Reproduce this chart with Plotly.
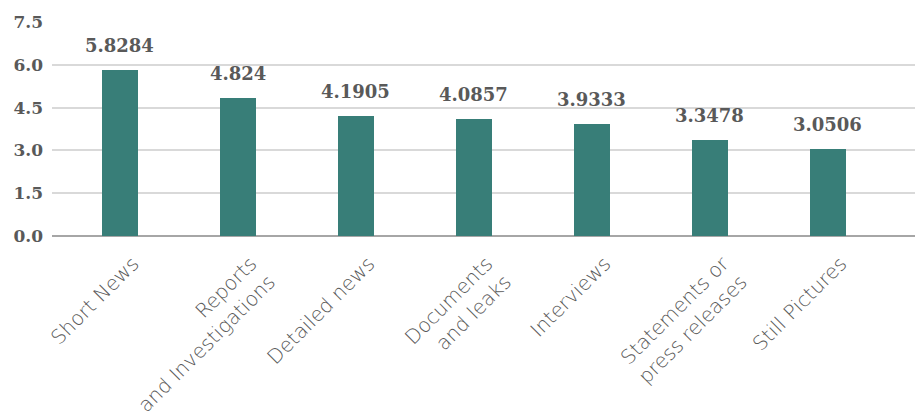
import plotly.graph_objects as go

categories = [
    "Short News",
    "Reports<br>and Investigations",
    "Detailed news",
    "Documents<br>and leaks",
    "Interviews",
    "Statements or<br>press releases",
    "Still Pictures",
]
values = [5.8284, 4.824, 4.1905, 4.0857, 3.9333, 3.3478, 3.0506]
value_labels = ["5.8284", "4.824", "4.1905", "4.0857", "3.9333", "3.3478", "3.0506"]
y_ticks = [0, 1.5, 3.0, 4.5, 6.0, 7.5]
y_tick_labels = ["0.0", "1.5", "3.0", "4.5", "6.0", "7.5"]

BAR = "#387e78"
GREY = "#595959"
SERIF = "DejaVu Serif"

x_idx = list(range(len(categories)))

fig = go.Figure()
fig.add_trace(go.Bar(
    x=x_idx,
    y=values,
    width=0.305,
    marker=dict(color=BAR, line=dict(width=0)),
    hoverinfo="skip",
))

for i, (v, lab) in enumerate(zip(values, value_labels)):
    fig.add_annotation(
        x=i, y=v, text=f"<b>{lab}</b>", showarrow=False,
        xref="x", yref="y", yanchor="bottom", yshift=12,
        font=dict(family=SERIF, size=18, color=GREY),
    )

fig.update_layout(
    width=915, height=412,
    margin=dict(l=52, r=0, t=22, b=176),
    paper_bgcolor="white", plot_bgcolor="white",
    showlegend=False,
    bargap=0,
)
fig.update_xaxes(
    range=[-0.576, 6.74],
    tickmode="array", tickvals=x_idx, ticktext=categories,
    tickangle=-45, automargin=False,
    tickfont=dict(family="DejaVu Sans", size=20, color=GREY, weight=200),
    showgrid=False, zeroline=False, showline=False, ticks="",
    ticklabelshift=13, ticklabelstandoff=11,
)
fig.update_yaxes(
    range=[0, 7.5], automargin=False,
    tickmode="array", tickvals=y_ticks, ticktext=[f"<b>{t}</b>" for t in y_tick_labels],
    tickfont=dict(family=SERIF, size=17, color=GREY),
    showgrid=True, gridcolor="#d9d9d9", gridwidth=2,
    zeroline=True, zerolinecolor="#a6a6a6", zerolinewidth=2,
    showline=False, ticks="", ticklabelstandoff=8,
)

fig.write_html("out.html")
